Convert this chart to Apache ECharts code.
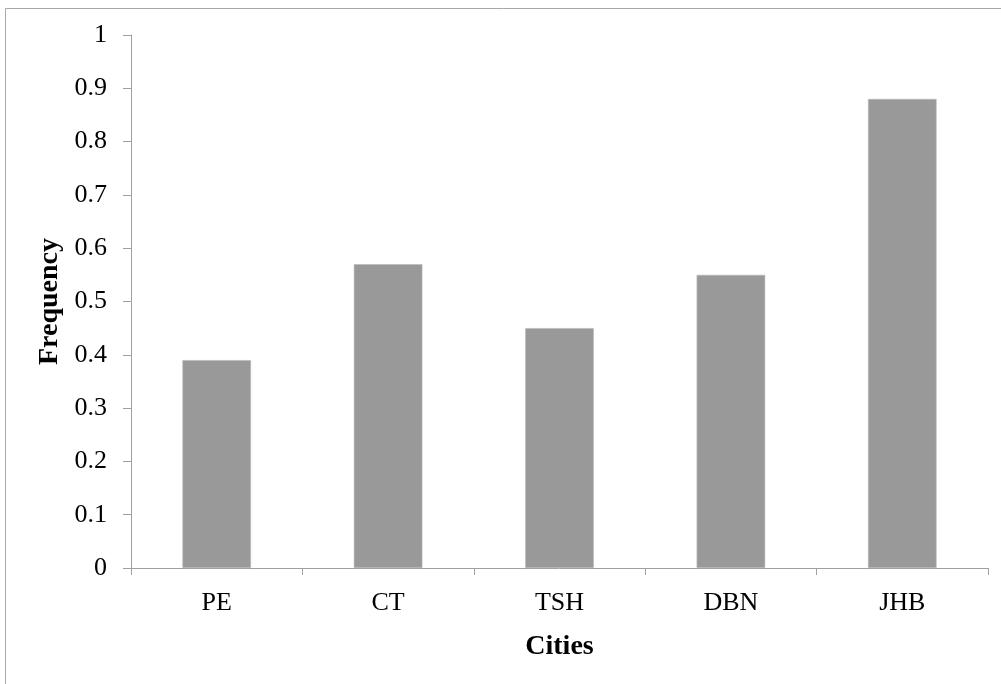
<!DOCTYPE html>
<html>
<head>
<meta charset="utf-8">
<script src="https://cdn.jsdelivr.net/npm/echarts@6/dist/echarts.min.js"></script>
<style>
  html, body { margin: 0; padding: 0; background: #fff; }
  #chart { width: 1001px; height: 684px; }
</style>
</head>
<body>
<div id="chart"></div>
<script>
// Frequency by city
const cities = ['PE', 'CT', 'TSH', 'DBN', 'JHB'];
const frequency = [0.39, 0.57, 0.45, 0.55, 0.88];
const yTicks = { min: 0, max: 1, interval: 0.1 };

const serif = '"Liberation Serif", "DejaVu Serif", serif';
const axisGrey = '#a0a0a0';

const chart = echarts.init(document.getElementById('chart'), null, { renderer: 'canvas' });
chart.setOption({
  animation: false,
  backgroundColor: '#fff',
  graphic: [{
    type: 'rect',
    shape: { x: 5.5, y: 8.5, width: 1000, height: 700 },
    style: { fill: 'none', stroke: '#a8a8a8', lineWidth: 1 },
    silent: true
  }],
  grid: { left: 131, right: 13, top: 35, bottom: 116, containLabel: false },
  xAxis: {
    type: 'category',
    data: cities,
    name: 'Cities',
    nameLocation: 'middle',
    nameGap: 65,
    nameTextStyle: { fontFamily: serif, fontSize: 28, fontWeight: 'bold', color: '#000' },
    axisLine: { lineStyle: { color: axisGrey, width: 1 } },
    axisTick: { show: true, alignWithLabel: false, length: 7, lineStyle: { color: axisGrey } },
    axisLabel: { fontFamily: serif, fontSize: 26, color: '#000', margin: 22 },
    splitLine: { show: false }
  },
  yAxis: {
    type: 'value',
    min: yTicks.min,
    max: yTicks.max,
    interval: yTicks.interval,
    name: 'Frequency',
    nameLocation: 'middle',
    nameGap: 63,
    nameRotate: 90,
    nameTextStyle: { fontFamily: serif, fontSize: 28, fontWeight: 'bold', color: '#000' },
    axisLine: { show: true, lineStyle: { color: axisGrey, width: 1 } },
    axisTick: { show: true, length: 8, lineStyle: { color: axisGrey } },
    axisLabel: {
      fontFamily: serif, fontSize: 26, color: '#000', margin: 24,
      formatter: v => String(Math.round(v * 10) / 10)
    },
    splitLine: { show: false }
  },
  series: [{
    type: 'bar',
    data: frequency,
    barWidth: '40%',
    itemStyle: { color: '#999999', borderColor: '#b8b8b8', borderWidth: 0.6 }
  }]
});
</script>
</body>
</html>
